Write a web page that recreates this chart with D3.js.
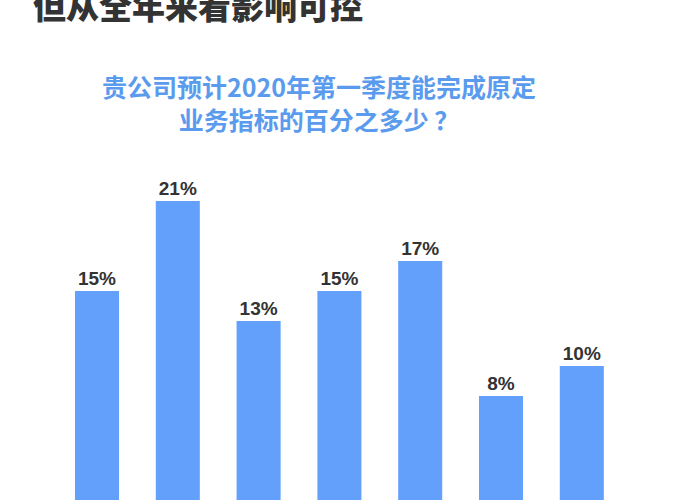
<!DOCTYPE html>
<html>
<head>
<meta charset="utf-8">
<script src="https://cdn.jsdelivr.net/npm/d3@7"></script>
<style>
  body { margin: 0; background: #fff; }
  svg { display: block; }
</style>
</head>
<body>
<div id="chart"></div>
<script>
// answers, left to right (category names are not shown in the picture)
const categories = ['a', 'b', 'c', 'd', 'e', 'f', 'g'];
const values = [15, 21, 13, 15, 17, 8, 10];
const headline = '但从全年来看影响可控';
const titleLines = ['贵公司预计2020年第一季度能完成原定', '业务指标的百分之多少 ？'];

const width = 700, height = 500;
const font = '"Noto Sans CJK SC", "Noto Sans", sans-serif';

const svg = d3.select('#chart').append('svg')
  .attr('width', width)
  .attr('height', height);

// headline, cut off at the top of the frame
svg.append('text')
  .attr('x', 33)
  .attr('y', 19)
  .attr('font-family', font)
  .attr('font-weight', 900)
  .attr('font-size', 33)
  .attr('fill', '#333')
  .text(headline);

// blue question title
svg.append('g')
  .selectAll('text')
  .data(titleLines)
  .enter()
  .append('text')
  .attr('x', 319)
  .attr('y', (d, i) => 97 + i * 33)
  .attr('text-anchor', 'middle')
  .attr('font-family', font)
  .attr('font-weight', 700)
  .attr('font-size', 25)
  .attr('fill', '#5b9bee')
  .text(d => d);

const xScale = d3.scaleBand()
  .domain(categories)
  .range([56.6, 622.2])
  .paddingInner(0.455)
  .paddingOuter(0.2275);

// baseline lies below the bottom of the frame
const yScale = d3.scaleLinear()
  .domain([0, 21])
  .range([516, 201]);

const bars = svg.append('g').attr('class', 'bars');

bars.selectAll('rect')
  .data(values)
  .enter()
  .append('rect')
  .attr('x', (d, i) => xScale(categories[i]))
  .attr('y', d => yScale(d))
  .attr('width', xScale.bandwidth())
  .attr('height', d => yScale(0) - yScale(d))
  .attr('fill', '#63a0fc');

bars.selectAll('text')
  .data(values)
  .enter()
  .append('text')
  .attr('x', (d, i) => xScale(categories[i]) + xScale.bandwidth() / 2)
  .attr('y', d => yScale(d) - 6)
  .attr('text-anchor', 'middle')
  .attr('font-family', '"Liberation Sans", Arial, sans-serif')
  .attr('font-weight', 700)
  .attr('font-size', 19)
  .attr('fill', '#333')
  .text(d => d + '%');
</script>
</body>
</html>
